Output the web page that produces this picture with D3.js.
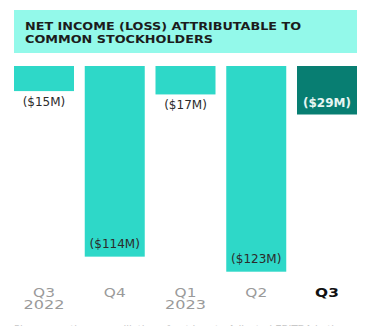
<!DOCTYPE html>
<html><head><meta charset="utf-8">
<script src="https://cdn.jsdelivr.net/npm/d3@7"></script>
<style>html,body{margin:0;padding:0;background:#fff;overflow:hidden}</style>
</head><body>
<svg id="c" width="381" height="326"></svg>
<script>
const quarters = ["Q3", "Q4", "Q1", "Q2", "Q3"];
const years = ["2022", "", "2023", "", ""];
const values = [15, 114, 17, 123, 29];
const labels = ["($15M)", "($114M)", "($17M)", "($123M)", "($29M)"];
const highlight = [false, false, false, false, true];
const titleLines = ["NET INCOME (LOSS) ATTRIBUTABLE TO", "COMMON STOCKHOLDERS"];
const footnote = "Please see the reconciliation of net loss to Adjusted EBITDA in the appendix of this letter for more.";

const svg = d3.select("#c");
const x = d3.scaleBand().domain(d3.range(values.length)).range([14, 357]).paddingInner(0.152).paddingOuter(0);
const y = d3.scaleLinear().domain([0, 123]).range([66, 271.7]);

// header
svg.append("rect").attr("x", 14).attr("y", 10).attr("width", 343).attr("height", 43).attr("fill", "#93f9ea");
const tl = [276, 188];
titleLines.forEach((t, i) => {
  svg.append("text").attr("x", 25).attr("y", 29.5 + i * 13.3)
    .attr("font-family", "DejaVu Sans").attr("font-weight", "bold").attr("font-size", 10.8)
    .attr("fill", "#1c1c1c").attr("textLength", tl[i]).attr("lengthAdjust", "spacingAndGlyphs").text(t);
});

// bars
svg.selectAll("rect.bar").data(values).enter().append("rect").attr("class", "bar")
  .attr("x", (d, i) => x(i)).attr("y", y(0)).attr("width", x.bandwidth())
  .attr("height", d => y(d) - y(0))
  .attr("fill", (d, i) => highlight[i] ? "#087e72" : "#2ed8c8");

// value labels
svg.selectAll("text.val").data(values).enter().append("text").attr("class", "val")
  .attr("x", (d, i) => x(i) + x.bandwidth() / 2)
  .attr("y", (d, i) => highlight[i] ? y(d) - 7 : (d > 50 ? y(d) - 8.5 : y(d) + 14.5))
  .attr("text-anchor", "middle").attr("font-family", "DejaVu Sans")
  .attr("font-size", 12)
  .attr("font-weight", (d, i) => highlight[i] ? "bold" : "normal")
  .attr("fill", (d, i) => highlight[i] ? "#e6f6f2" : "#2b2b2b")
  .text((d, i) => labels[i]);

// x axis labels: quarter and year
function stretch(sel, factor) {
  sel.each(function () {
    const w = this.getComputedTextLength();
    d3.select(this).attr("textLength", w * factor).attr("lengthAdjust", "spacingAndGlyphs");
  });
}
const tq = svg.selectAll("text.q").data(quarters).enter().append("text").attr("class", "q")
  .attr("x", (d, i) => x(i) + x.bandwidth() / 2).attr("y", 297.4)
  .attr("text-anchor", "middle").attr("font-family", "DejaVu Sans").attr("font-size", 12)
  .attr("font-weight", (d, i) => highlight[i] ? "bold" : "normal")
  .attr("fill", (d, i) => highlight[i] ? "#111" : "#9a9a9a").text(d => d);
stretch(tq, 1.28);
const ty = svg.selectAll("text.yr").data(years.filter(d => d)).enter().append("text").attr("class", "yr")
  .attr("x", d => x(years.indexOf(d)) + x.bandwidth() / 2).attr("y", 308.6)
  .attr("text-anchor", "middle").attr("font-family", "DejaVu Sans").attr("font-size", 12)
  .attr("fill", "#9a9a9a").text(d => d);
stretch(ty, 1.34);

// clipped footnote
svg.append("text").attr("x", 14).attr("y", 333).attr("font-family", "DejaVu Sans")
  .attr("font-size", 10).attr("fill", "#c8c8c8").text(footnote);
</script>
</body></html>
